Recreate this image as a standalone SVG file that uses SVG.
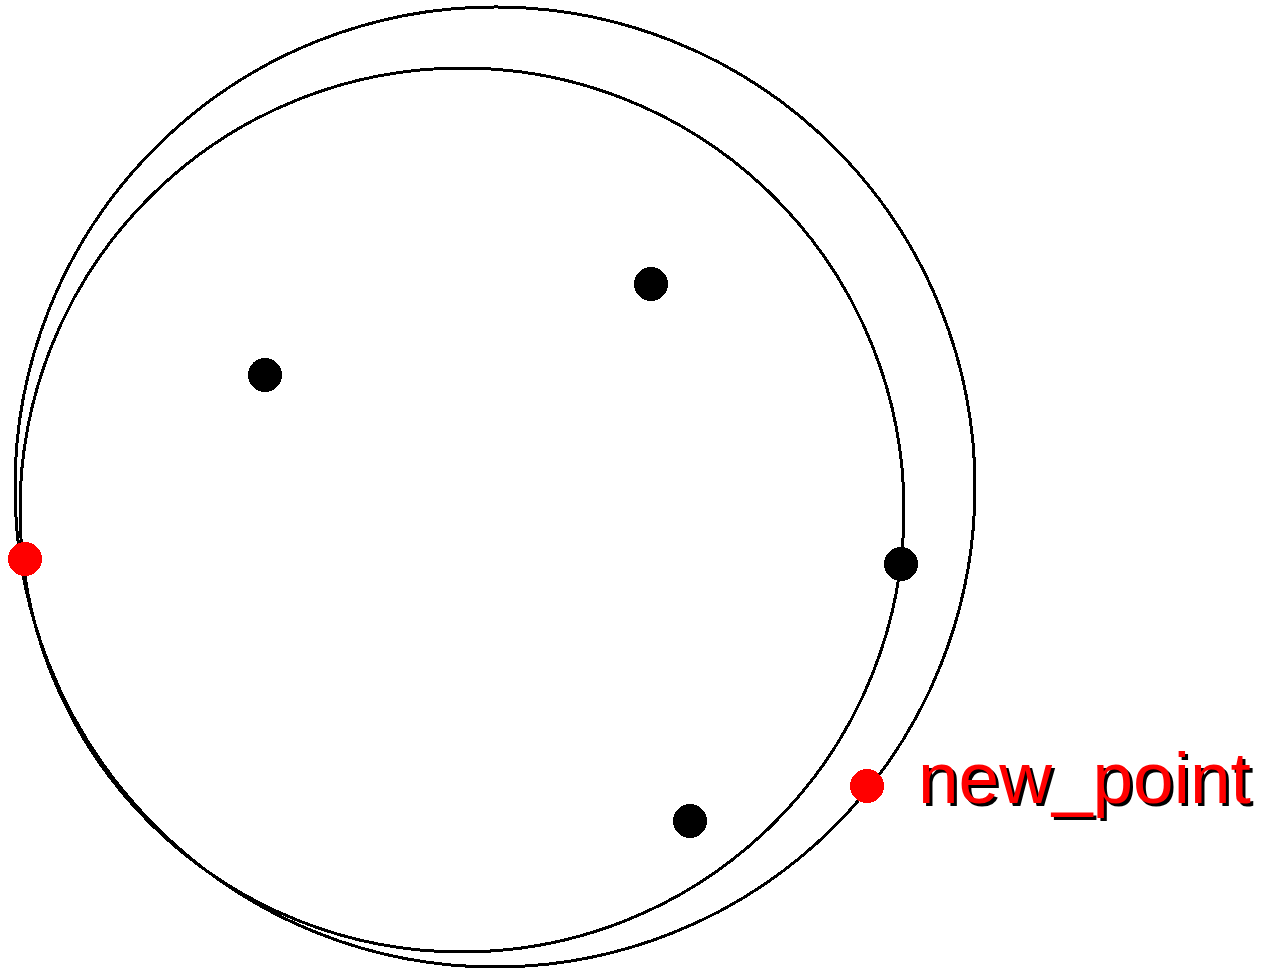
<svg xmlns="http://www.w3.org/2000/svg" width="1265" height="970" viewBox="0 0 1265 970">
<style>
.ring{fill:none;stroke:#000;stroke-width:3}
.pt{fill:#000}
.np{fill:#f00}
.lbl{font-family:"Liberation Sans",Arial,sans-serif;font-size:73px}
</style>
<rect width="1265" height="970" fill="#fff"/>
<g id="circles" shape-rendering="crispEdges">
<circle id="outer" class="ring" cx="495" cy="487" r="480"/>
<circle id="inner" class="ring" cx="462" cy="510" r="442"/>
</g>
<g id="points" shape-rendering="crispEdges">
<circle id="p1" class="pt" cx="265" cy="375" r="17"/>
<circle id="p2" class="pt" cx="651" cy="284" r="17"/>
<circle id="p3" class="pt" cx="901" cy="564" r="17"/>
<circle id="p4" class="pt" cx="690" cy="821" r="17"/>
<circle id="p5" class="np" cx="25" cy="559" r="17"/>
</g>
<g id="new_point">
<circle class="np" cx="867" cy="786" r="17" shape-rendering="crispEdges"/>
<text class="lbl" x="921" y="806" fill="#000">new_point</text>
<text class="lbl" x="918" y="803" fill="#f00">new_point</text>
</g>
</svg>
